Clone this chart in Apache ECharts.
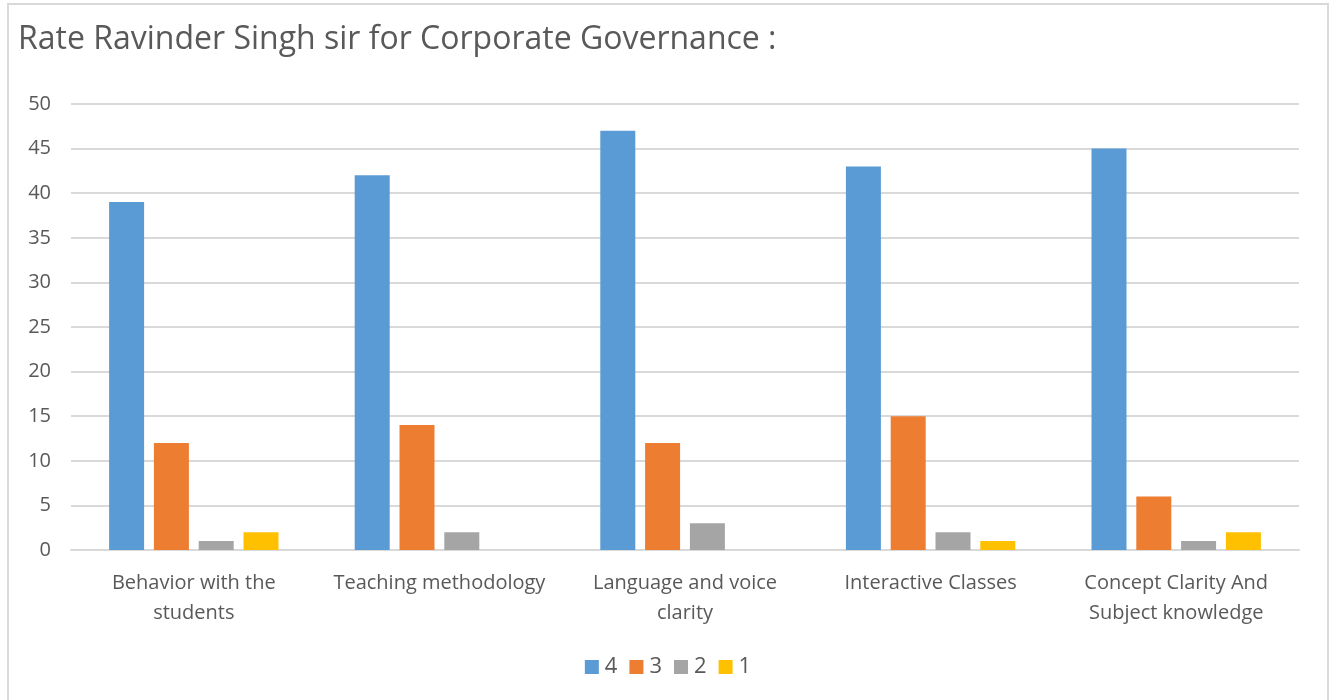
<!DOCTYPE html>
<html>
<head>
<meta charset="utf-8">
<script src="https://cdn.jsdelivr.net/npm/echarts@6/dist/echarts.min.js"></script>
<style>
    html, body { margin: 0; padding: 0; background: #fff; }
    #frame { position: absolute; left: 7px; top: 3px; width: 1322px; height: 700px; border: 2px solid #d9d9d9; box-sizing: border-box; }
    #chart { position: absolute; left: 0; top: 0; width: 1336px; height: 700px; }
</style>
</head>
<body>
<div id="frame"></div>
<div id="chart"></div>
<script>
// Data
const categories = ['Behavior with the\nstudents', 'Teaching methodology', 'Language and voice\nclarity', 'Interactive Classes', 'Concept Clarity And\nSubject knowledge'];
const rating4 = [39, 42, 47, 43, 45];
const rating3 = [12, 14, 12, 15, 6];
const rating2 = [1, 2, 3, 2, 1];
const rating1 = [2, 0, 0, 1, 2];
const seriesNames = ['4', '3', '2', '1'];
const colors = ['#5b9bd5', '#ed7d31', '#a5a5a5', '#ffc000'];

const font = "'Open Sans', 'Noto Sans', sans-serif";
const textColor = '#595959';

const myChart = echarts.init(document.getElementById('chart'));
myChart.setOption({
    color: colors,
    animation: false,
    title: {
        text: 'Rate Ravinder Singh sir for Corporate Governance :',
        left: 13,
        top: 19,
        textStyle: { fontFamily: font, fontSize: 32, fontWeight: 'normal', color: textColor }
    },
    legend: {
        bottom: 17,
        left: 'center',
        itemWidth: 14,
        itemHeight: 14,
        itemGap: 12,
        icon: 'rect',
        textStyle: { fontFamily: font, fontSize: 22, color: textColor, padding: [0, 0, 0, 1] },
        data: seriesNames
    },
    grid: { left: 71, right: 37, top: 104, bottom: 150, containLabel: false },
    xAxis: {
        type: 'category',
        data: categories,
        axisLine: { lineStyle: { color: '#d9d9d9', width: 2 } },
        axisTick: { show: false },
        axisLabel: { fontFamily: font, fontSize: 20, color: textColor, margin: 18, lineHeight: 30, interval: 0 }
    },
    yAxis: {
        type: 'value',
        min: 0,
        max: 50,
        interval: 5,
        axisLine: { show: false },
        axisTick: { show: false },
        axisLabel: { fontFamily: font, fontSize: 20, color: textColor, margin: 20 },
        splitLine: { lineStyle: { color: '#d9d9d9', width: 2 } }
    },
    series: [
        { name: seriesNames[0], type: 'bar', data: rating4, barWidth: 35, barGap: '28%' },
        { name: seriesNames[1], type: 'bar', data: rating3, barWidth: 35, barGap: '28%' },
        { name: seriesNames[2], type: 'bar', data: rating2, barWidth: 35, barGap: '28%' },
        { name: seriesNames[3], type: 'bar', data: rating1, barWidth: 35, barGap: '28%' }
    ]
});
</script>
</body>
</html>
